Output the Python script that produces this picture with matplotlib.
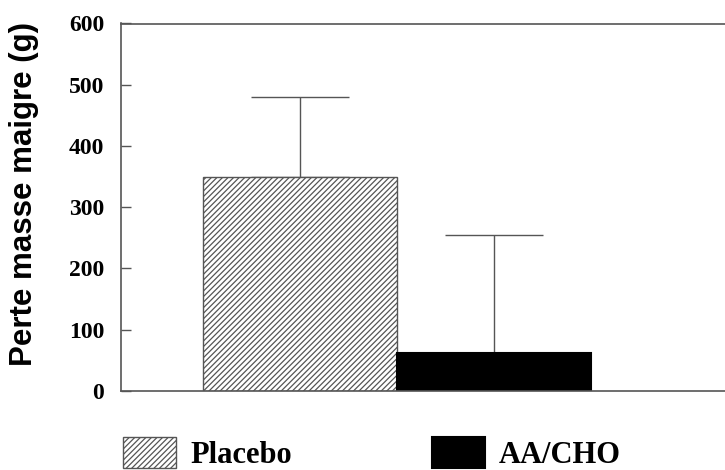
import matplotlib.pyplot as plt

groups = ['Placebo', 'AA/CHO']
means = [350, 62]
errors = [130, 193]
yticks = [0, 100, 200, 300, 400, 500, 600]

plt.rcParams['hatch.linewidth'] = 0.9
plt.rcParams['hatch.color'] = '#555555'

fig = plt.figure(figsize=(7.25, 4.7), dpi=100)
ax = fig.add_axes([0.1669, 0.1687, 0.8331, 0.7813])

xpos = [0, 1]
# error bars behind the bars so the lower cap stays hidden
ax.errorbar(xpos, means, yerr=[[0, 0], errors], fmt='none', ecolor='#555555',
            elinewidth=1.0, capsize=35, capthick=1.0, zorder=1)
b1 = ax.bar(xpos[0], means[0], width=1.0, color='white', edgecolor='#555555',
            hatch='//////', linewidth=1.0, label=groups[0], zorder=2)
b2 = ax.bar(xpos[1], means[1], width=1.0, color='black', edgecolor='black',
            linewidth=1.5, label=groups[1], zorder=2)

ax.set_xlim(-0.923, 2.19)
ax.set_ylim(0, 600)
ax.set_yticks(yticks)
ax.set_xticks([])
ax.tick_params(axis='y', direction='in', length=7, width=1, color='#555555', pad=12)
for lab in ax.get_yticklabels():
    lab.set_fontfamily('Liberation Serif')
    lab.set_fontweight('bold')
    lab.set_fontsize(17)

for s in ['left', 'top', 'bottom']:
    ax.spines[s].set_color('#555555')
    ax.spines[s].set_linewidth(1.2)
ax.spines['right'].set_visible(False)

ax.set_ylabel('Perte masse maigre (g)', fontfamily='Liberation Sans',
              fontweight='bold', fontsize=22.5)
ax.yaxis.set_label_coords(-0.136, 0.535)

leg = fig.legend(handles=[b1, b2], labels=groups, loc='lower left',
                 bbox_to_anchor=(0.132, -0.058), ncol=2, frameon=False,
                 handlelength=1.73, handleheight=1.2, handletextpad=0.46,
                 columnspacing=4.6,
                 prop={'family': 'Liberation Serif', 'weight': 'bold', 'size': 22})

fig.savefig('out.png', dpi=100)
